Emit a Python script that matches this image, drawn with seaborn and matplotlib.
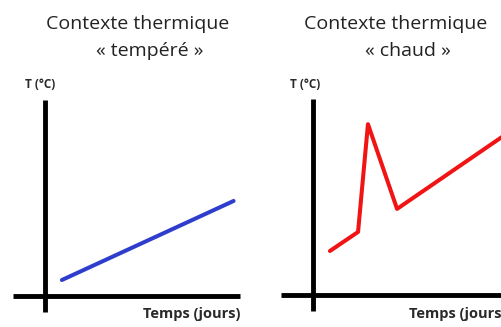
import matplotlib
matplotlib.use('Agg')
import matplotlib.pyplot as plt
import seaborn as sns
import pandas as pd

# Temperature curves (arbitrary units)
temps_tempere = [0.53, 5.9]
temp_tempere = [0.5, 2.97]

temps_chaud = [0.53, 1.41, 1.72, 2.63, 6.0]
temp_chaud = [1.375, 1.97, 5.34, 2.69, 5.0]

title_line1 = 'Contexte thermique'
title_line2 = ['« tempéré »', '« chaud »']
ylabel = 'T (°C)'
xlabel = 'Temps (jours)'

sns.set_theme(style='white')
plt.rcParams['font.family'] = ['Open Sans', 'DejaVu Sans']

fig = plt.figure(figsize=(5.02, 3.27), dpi=100)
W, H = 502, 327


def px_axes(x0, y0, x1, y1):
    # pixel box (top-left origin) -> figure axes
    return fig.add_axes([x0 / W, 1 - y1 / H, (x1 - x0) / W, (y1 - y0) / H])


def style_axes(ax):
    ax.set_xlim(-1, 6.1)
    ax.set_ylim(-0.5, 6.125)
    for side in ['top', 'right']:
        ax.spines[side].set_visible(False)
    ax.spines['left'].set_position(('data', 0))
    ax.spines['bottom'].set_position(('data', 0))
    for side in ['left', 'bottom']:
        ax.spines[side].set_linewidth(3.5)
        ax.spines[side].set_color('black')
        ax.spines[side].set_capstyle('butt')
    ax.set_xticks([])
    ax.set_yticks([])
    ax.set_xlabel('')
    ax.set_ylabel('')
    ax.patch.set_alpha(0)


ax1 = px_axes(13, 100, 240, 312)
df1 = pd.DataFrame({'t': temps_tempere, 'T': temp_tempere})
sns.lineplot(data=df1, x='t', y='T', ax=ax1, color='#2f3dcc', linewidth=2.9, sort=False)
style_axes(ax1)

ax2 = px_axes(281, 99, 508, 311)
df2 = pd.DataFrame({'t': temps_chaud, 'T': temp_chaud})
sns.lineplot(data=df2, x='t', y='T', ax=ax2, color='#f01414', linewidth=2.9, sort=False)
style_axes(ax2)

# titles
for xc, sub in zip([138, 396], title_line2):
    fig.text(xc / W, 1 - 24 / H, title_line1, ha='center', va='center', fontsize=14,
             color='#222222')
    fig.text((xc + 12) / W, 1 - 51 / H, sub, ha='center', va='center', fontsize=14,
             color='#222222')

# axis labels
for x0 in [40, 305]:
    fig.text(x0 / W, 1 - 85 / H, ylabel, ha='center', va='center', fontsize=8.5,
             fontweight='bold', color='#2a2a2a')
for x0 in [143, 409]:
    fig.text(x0 / W, 1 - 314 / H, xlabel, ha='left', va='center', fontsize=10.5,
             fontweight='bold', color='#2a2a2a')

fig.savefig('out.png', dpi=100)
